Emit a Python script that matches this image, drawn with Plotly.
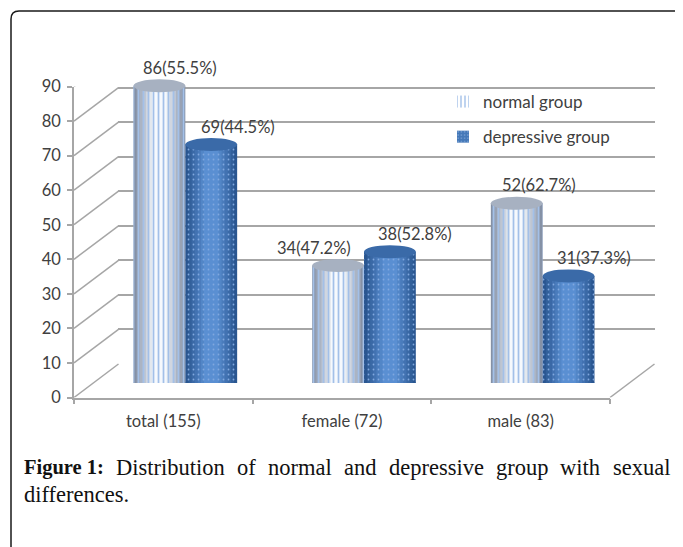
import plotly.graph_objects as go

# ---------------- data ----------------
categories = ["total (155)", "female (72)", "male (83)"]
normal = [86, 34, 52]
depressive = [69, 38, 31]
normal_pct = [55.5, 47.2, 62.7]
depressive_pct = [44.5, 52.8, 37.3]
y_ticks = [0, 10, 20, 30, 40, 50, 60, 70, 80, 90]
caption_bold = "Figure 1:"
caption_line1 = "Distribution of normal and depressive group with sexual"
caption_line2 = "differences."

W, H = 683, 547
OFF = 8  # page body margin of the browser


def px(x):
    return (x - OFF) / W


def py(y):
    return 1 - (y - OFF) / H


# plane geometry (target pixels in the window)
FRONT_X = (74, 610)
FRONT_Y = (397.5, 86.5)      # value 0 -> 397.5, value 90 -> 86.5
BACK_X = (118, 655)
BACK_Y = (364, 53)
BAR_X = (96, 632)
BAR_Y = (383, 383 - (397.5 - 86.5))
UNIT = (397.5 - 86.5) / 90.0
DEPTH_UNITS = (397.5 - 364) / UNIT
DEPTH_XFRAC = 44.5 / (FRONT_X[1] - FRONT_X[0])

GRID = "#a6a6a6"
TXT = "#404040"

fig = go.Figure()

fig.add_trace(go.Scatter(x=categories, y=[0, 0, 0], mode="lines", line=dict(width=0),
                         hoverinfo="skip", showlegend=False, xaxis="x", yaxis="y"))
fig.add_trace(go.Scatter(x=[0, 1, 2], y=[0, 0, 0], mode="lines", line=dict(width=0),
                         hoverinfo="skip", showlegend=False, xaxis="x2", yaxis="y2"))

bw = 0.29
n_off = -0.145
d_off = 0.145


def hex2rgb(h):
    h = h.lstrip("#")
    return tuple(int(h[i:i + 2], 16) for i in (0, 2, 4))


def mix(c1, c2, t):
    a, b = hex2rgb(c1), hex2rgb(c2)
    return "rgb(%d,%d,%d)" % tuple(round(a[i] + (b[i] - a[i]) * t) for i in range(3))


fracs = [1.0, 0.88, 0.76, 0.64, 0.52, 0.40, 0.28]

series = [
    dict(name="normal group", vals=normal, pct=normal_pct, off=n_off,
         edge="#8591a6", center="#f6f9fd", cap="#a7b1c1", bottom="#c3cbd8",
         pshape="|", pfg="#a3c0e8", psize=5, psol=0.35, grp="n",
         lshift=[21, -24, 22]),
    dict(name="depressive group", vals=depressive, pct=depressive_pct, off=d_off,
         edge="#2a5690", center="#5a8fd2", cap="#3a6aa8", bottom="#4478b8",
         pshape=".", pfg="#80a8de", psize=5, psol=0.1, grp="d",
         lshift=[27, 25, 25]),
]

shapes = []
annotations = []

for s in series:
    xs = [i + s["off"] for i in range(len(categories))]
    n = len(fracs)
    for k, f in enumerate(fracs):
        t = k / (n - 1)
        fig.add_trace(go.Bar(
            x=xs, y=s["vals"], width=[bw * f] * len(xs),
            marker=dict(color=mix(s["edge"], s["center"], t), line=dict(width=0)),
            showlegend=False, hoverinfo="skip", xaxis="x3", yaxis="y3"))
    fig.add_trace(go.Bar(
        x=xs, y=s["vals"], width=[bw] * len(xs), name=s["name"],
        legendgroup=s["grp"],
        marker=dict(color="rgba(0,0,0,0)", line=dict(width=0),
                    pattern=dict(shape=s["pshape"], fgcolor=s["pfg"],
                                 bgcolor="rgba(0,0,0,0)", size=s["psize"],
                                 solidity=s["psol"], fillmode="replace")),
        showlegend=(s["grp"] == "n"), hoverinfo="skip", xaxis="x3", yaxis="y3"))
    hcap = 6.5 / UNIT
    for x, v, p, sh in zip(xs, s["vals"], s["pct"], s["lshift"]):
        shapes.append(dict(type="circle", xref="x3", yref="y3",
                           x0=x - bw / 2, x1=x + bw / 2, y0=-hcap, y1=hcap,
                           fillcolor=s["bottom"], line=dict(width=0), layer="between"))
        shapes.append(dict(type="circle", xref="x3", yref="y3",
                           x0=x - bw / 2, x1=x + bw / 2, y0=v - hcap, y1=v + hcap,
                           fillcolor=s["cap"], line=dict(width=0), layer="above"))
        annotations.append(dict(xref="x3", yref="y3", x=x, y=v, xshift=sh, yshift=18,
                                text=f"{v}({p}%)", showarrow=False,
                                font=dict(family="Lato", size=16.5, color=TXT)))

# legend entry for depressive group (solid blue dotted square)
fig.add_trace(go.Bar(x=[None], y=[None], name="depressive group", legendgroup="d",
                     marker=dict(color="#4478b8", line=dict(width=0),
                                 pattern=dict(shape=".", fgcolor="#a9c6ec", size=4,
                                              solidity=0.2, fillmode="overlay")),
                     xaxis="x3", yaxis="y3", showlegend=True))

# 3-D frame: diagonals from front ticks to back wall, right floor edge
for v in y_ticks:
    shapes.append(dict(type="line", xref="x domain", yref="y",
                       x0=0, x1=DEPTH_XFRAC, y0=v, y1=v + DEPTH_UNITS,
                       line=dict(color=GRID, width=1.5), layer="below"))
shapes.append(dict(type="line", xref="x domain", yref="y",
                   x0=1, x1=1 + DEPTH_XFRAC, y0=0, y1=DEPTH_UNITS,
                   line=dict(color=GRID, width=1.5), layer="below"))

# outer rounded border
r = 8
L, T, R, B = 11, 11, 682.5, 600
path = (f"M {px(L)},{py(B)} L {px(L)},{py(T + r)} Q {px(L)},{py(T)} {px(L + r)},{py(T)} "
        f"L {px(R - r)},{py(T)} Q {px(R)},{py(T)} {px(R)},{py(T + r)} L {px(R)},{py(B)}")
shapes.append(dict(type="path", xref="paper", yref="paper", path=path,
                   line=dict(color="#1a1a1a", width=1.5)))

# caption (justified first line, Times metrics for Liberation Serif)
TIMES = {"a": 444, "b": 500, "c": 444, "d": 500, "e": 444, "f": 333, "g": 500, "h": 500,
         "i": 278, "l": 278, "m": 778, "n": 500, "o": 500, "p": 500, "r": 333, "s": 389,
         "t": 278, "u": 500, "v": 500, "w": 722, "x": 500, "D": 722, " ": 250, ".": 250}
TIMES_B = {"F": 611, "i": 278, "g": 500, "u": 556, "r": 444, "e": 444, " ": 250,
           "1": 500, ":": 333}
CS = 22.5
CSB = 20.5


def tw(word, table, size):
    return sum(table.get(c, 500) for c in word) * size / 1000.0


cap_font = dict(family="Liberation Serif", size=CS, color="#111111")
bold_font = dict(family="Liberation Serif", size=CSB, color="#111111")
LEFT, RIGHT = 22, 668
words = caption_line1.split(" ")
w_bold = tw(caption_bold, TIMES_B, CSB)
w_words = sum(tw(w, TIMES, CS) for w in words)
gap = (RIGHT - LEFT - w_bold - w_words) / len(words)
annotations.append(dict(xref="paper", yref="paper", x=px(LEFT), y=py(467),
                        text=f"<b>{caption_bold}</b>", xanchor="left", yanchor="middle",
                        showarrow=False, font=bold_font))
xcur = LEFT + w_bold + gap
for w in words:
    annotations.append(dict(xref="paper", yref="paper", x=px(xcur), y=py(467), text=w,
                            xanchor="left", yanchor="middle", showarrow=False, font=cap_font))
    xcur += tw(w, TIMES, CS) + gap
annotations.append(dict(xref="paper", yref="paper", x=px(LEFT), y=py(494), text=caption_line2,
                        xanchor="left", yanchor="middle", showarrow=False, font=cap_font))

fig.update_layout(
    template="none",
    width=W, height=H, autosize=False,
    margin=dict(l=0, r=0, t=0, b=0, pad=0),
    paper_bgcolor="white", plot_bgcolor="rgba(0,0,0,0)",
    barmode="overlay",
    showlegend=True,
    legend=dict(x=px(443), y=py(84), xanchor="left", yanchor="top",
                bgcolor="rgba(0,0,0,0)", traceorder="grouped", tracegroupgap=10,
                font=dict(family="Lato", size=17, color=TXT)),
    xaxis=dict(domain=[px(FRONT_X[0]), px(FRONT_X[1])], range=[-0.5, 2.5],
               type="category", tickson="boundaries", ticks="outside", ticklen=5,
               tickcolor=GRID, tickwidth=1.5, showline=True, linecolor=GRID, linewidth=1.5,
               tickfont=dict(family="Lato", size=16.5, color=TXT), anchor="y",
               ticklabelstandoff=8,
               showgrid=False, zeroline=False, automargin=False),
    yaxis=dict(domain=[py(FRONT_Y[0]), py(FRONT_Y[1])], range=[0, 90], tickvals=y_ticks,
               ticks="outside", ticklen=5, tickcolor=GRID, tickwidth=1.5,
               showline=True, linecolor=GRID, linewidth=1.5, anchor="x",
               tickfont=dict(family="Lato", size=16.5, color=TXT), ticklabelstandoff=3,
               showgrid=False, zeroline=False, automargin=False),
    xaxis2=dict(domain=[px(BACK_X[0]), px(BACK_X[1])], range=[-0.5, 2.5], visible=False,
                anchor="y2", automargin=False),
    yaxis2=dict(domain=[py(BACK_Y[0]), py(BACK_Y[1])], range=[0, 90], tickvals=y_ticks,
                showgrid=True, gridcolor=GRID, gridwidth=1.5, zeroline=False,
                showticklabels=False, ticks="", showline=False, anchor="x2",
                automargin=False),
    xaxis3=dict(domain=[px(BAR_X[0]), px(BAR_X[1])], range=[-0.5, 2.5], visible=False,
                anchor="y3", automargin=False),
    yaxis3=dict(domain=[py(BAR_Y[0]), py(BAR_Y[1])], range=[0, 90], visible=False,
                anchor="x3", automargin=False),
    shapes=shapes,
    annotations=annotations,
)

fig.write_html("out.html")
